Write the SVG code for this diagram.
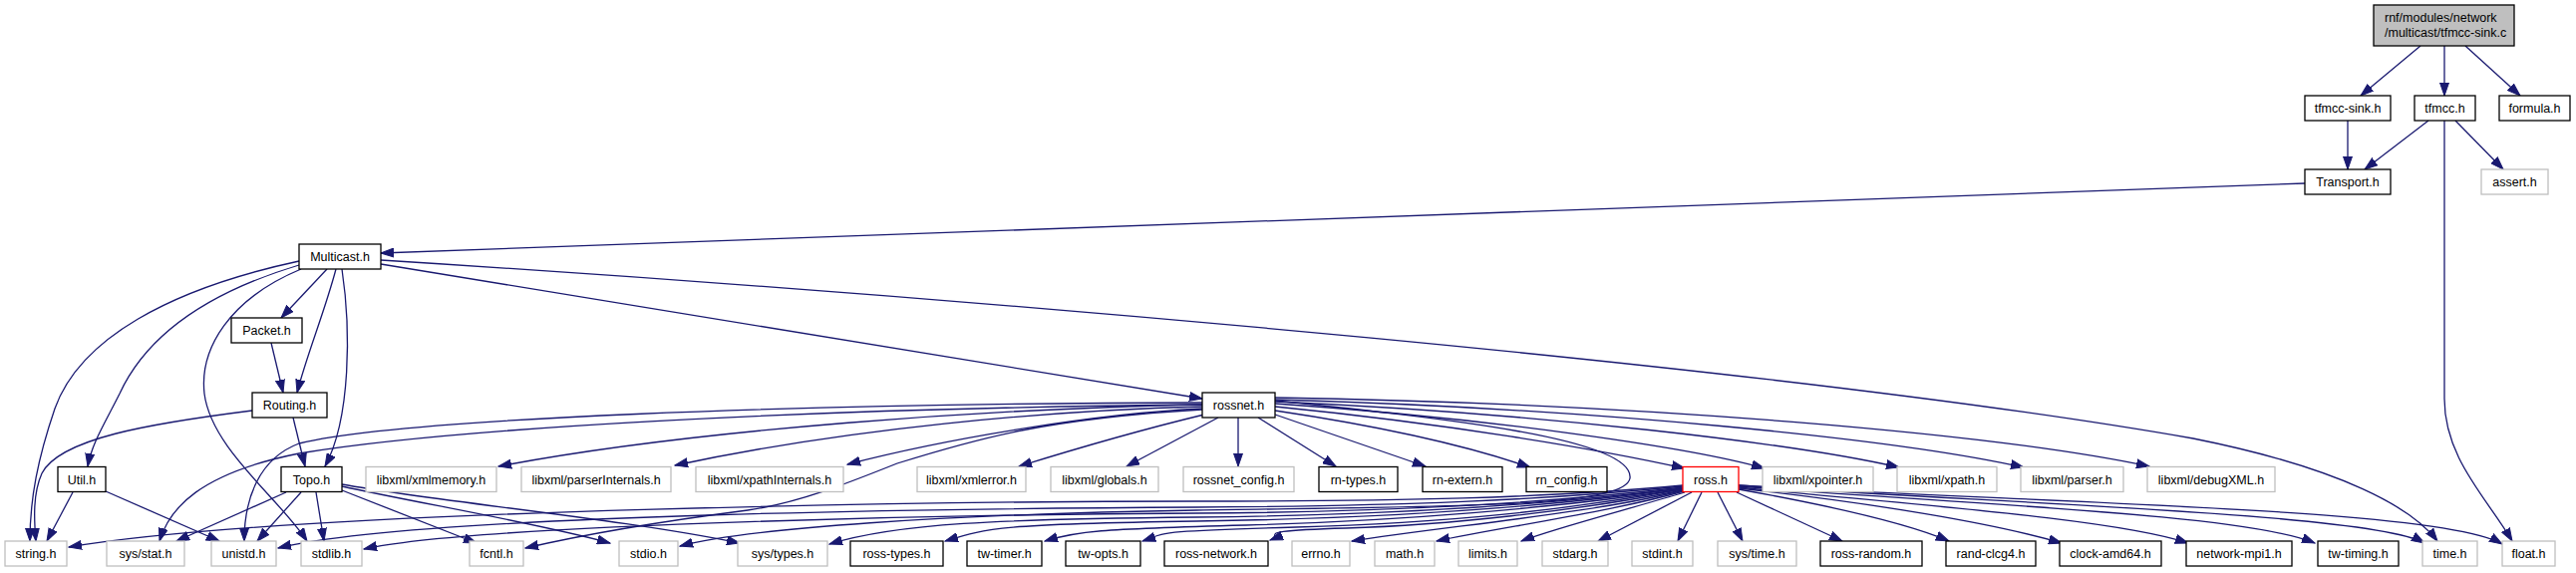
<svg xmlns="http://www.w3.org/2000/svg" width="2584" height="575" viewBox="0 0 2584 575">
<style>
.node rect{fill:#fff;stroke:#000;stroke-width:1.3}
.node.ext rect{stroke:#bfbfbf}
.node.red rect{stroke:#ff0000}
.node.root rect{fill:#bfbfbf;stroke:#000}
.node text{font-family:"Liberation Sans",Arial,sans-serif;font-size:12.5px;fill:#000;text-anchor:middle}
.node.root text{text-anchor:start}
#edges path{fill:none;stroke:#191970;stroke-width:1.3;marker-end:url(#arr)}
</style>
<defs>
<marker id="arr" markerUnits="userSpaceOnUse" markerWidth="14" markerHeight="10" refX="13" refY="5" orient="auto">
<path d="M0,0.5 L13,5 L0,9.5 z" fill="#191970" stroke="#191970" stroke-width="1"/>
</marker>
</defs>
<rect width="2584" height="575" fill="#fff"/>
<g id="edges">
<path d="M2428,46 L2368,96"/>
<path d="M2452,46 L2452,96"/>
<path d="M2473,46 L2528,96"/>
<path d="M2355,121 L2355,170"/>
<path d="M2436,121 L2372,170"/>
<path d="M2463,121 L2511,170"/>
<path d="M2452,121 L2452,400 C2452,460 2495,500 2520,543"/>
<path d="M2312,184 L382,254"/>
<path d="M328,270 L282,319"/>
<path d="M337,270 C325,315 308,355 298,394"/>
<path d="M343,270 C352,330 352,420 326,468"/>
<path d="M300,262 C170,290 80,340 55,410 C38,460 30,500 30,543"/>
<path d="M300,266 C220,290 150,330 120,395 C105,425 92,445 88,468"/>
<path d="M302,270 C230,300 200,350 205,395 C212,450 280,500 308,543"/>
<path d="M382,265 L1206,400"/>
<path d="M382,261 C1000,300 1800,370 2200,440 C2350,470 2420,510 2445,543"/>
<path d="M272,344 L284,394"/>
<path d="M294,419 L306,468"/>
<path d="M253,412 C150,425 60,440 42,475 C33,495 34,520 36,543"/>
<path d="M73,494 L47,543"/>
<path d="M106,493 L220,543"/>
<path d="M287,494 L177,543"/>
<path d="M302,494 L258,543"/>
<path d="M317,494 L325,543"/>
<path d="M343,492 L478,545"/>
<path d="M343,488 C420,505 540,525 612,545"/>
<path d="M343,486 C450,505 620,520 742,545"/>
<path d="M1206,406 C1000,410 700,430 500,468"/>
<path d="M1206,408 C1050,412 850,430 677,467"/>
<path d="M1206,410 C1100,415 950,440 850,466"/>
<path d="M1208,416 C1150,430 1080,450 1022,468"/>
<path d="M1222,419 L1130,468"/>
<path d="M1242,419 L1242,468"/>
<path d="M1262,419 L1340,468"/>
<path d="M1279,416 L1430,468"/>
<path d="M1279,412 C1400,430 1480,450 1535,469"/>
<path d="M1279,408 C1450,425 1600,450 1690,470"/>
<path d="M1279,405 C1500,420 1700,450 1770,470"/>
<path d="M1279,403 C1550,415 1800,445 1905,469"/>
<path d="M1279,401 C1600,410 1900,440 2030,469"/>
<path d="M1279,399 C1650,405 2000,435 2156,468"/>
<path d="M1206,404 C800,405 400,420 300,445 C260,460 245,500 245,543"/>
<path d="M1206,406 C800,410 450,430 300,455 C200,475 170,510 160,543"/>
<path d="M1206,411 C1050,420 980,440 900,465 C850,485 800,505 750,512 C650,525 570,540 527,550"/>
<path d="M1279,402 C1450,420 1640,440 1635,480 C1630,510 1450,508 1200,512 C950,516 750,530 682,548"/>
<path d="M1688,487 C1550,500 1400,503 1200,503 S300,510 69,549"/>
<path d="M1688,488 C1550,502 1400,508 1200,509 S420,515 279,550"/>
<path d="M1688,489 C1550,505 1400,514 1200,515 S480,525 365,551"/>
<path d="M1688,490 C1550,507 1400,517 1200,519 S900,525 832,546"/>
<path d="M1688,490 C1560,508 1400,520 1200,523 S990,530 948,543"/>
<path d="M1688,491 C1560,510 1400,523 1250,527 S1080,533 1048,543"/>
<path d="M1688,491 C1570,512 1450,525 1300,529 S1170,535 1146,543"/>
<path d="M1688,492 C1580,513 1450,527 1350,530 S1290,536 1274,542"/>
<path d="M1689,492 C1600,515 1450,528 1356,543"/>
<path d="M1689,493 C1610,515 1500,530 1441,543"/>
<path d="M1690,494 C1630,512 1560,530 1526,543"/>
<path d="M1697,494 L1603,543"/>
<path d="M1707,494 L1683,543"/>
<path d="M1723,494 L1748,543"/>
<path d="M1742,494 L1848,543"/>
<path d="M1744,491 C1850,510 1920,528 1955,543"/>
<path d="M1744,490 C1880,505 2000,525 2068,545"/>
<path d="M1744,489 C1900,505 2120,520 2195,545"/>
<path d="M1744,488 C1950,505 2250,515 2322,545"/>
<path d="M1744,487 C2000,505 2380,515 2432,545"/>
<path d="M1744,487 C2050,505 2450,510 2510,546"/>
</g>
<g id="n_root" class="node root"><rect x="2381" y="5" width="141" height="41"/><text x="2392" y="22">rnf/modules/network</text><text x="2392" y="37">/multicast/tfmcc-sink.c</text></g>
<g id="n_tfmcc_sink_h" class="node"><rect x="2312" y="96" width="86" height="25"/><text x="2355" y="113">tfmcc-sink.h</text></g>
<g id="n_tfmcc_h" class="node"><rect x="2422" y="96" width="61" height="25"/><text x="2452.5" y="113">tfmcc.h</text></g>
<g id="n_formula_h" class="node"><rect x="2507" y="96" width="71" height="25"/><text x="2542.5" y="113">formula.h</text></g>
<g id="n_transport_h" class="node"><rect x="2312" y="170" width="86" height="25"/><text x="2355" y="187">Transport.h</text></g>
<g id="n_assert_h" class="node ext"><rect x="2489" y="170" width="67" height="25"/><text x="2522.5" y="187">assert.h</text></g>
<g id="n_multicast_h" class="node"><rect x="300" y="245" width="82" height="25"/><text x="341" y="262">Multicast.h</text></g>
<g id="n_packet_h" class="node"><rect x="232" y="319" width="71" height="25"/><text x="267.5" y="336">Packet.h</text></g>
<g id="n_routing_h" class="node"><rect x="253" y="394" width="75" height="25"/><text x="290.5" y="411">Routing.h</text></g>
<g id="n_rossnet_h" class="node"><rect x="1206" y="394" width="73" height="25"/><text x="1242.5" y="411">rossnet.h</text></g>
<g id="n_util_h" class="node"><rect x="58" y="468.5" width="48" height="25"/><text x="82" y="485.5">Util.h</text></g>
<g id="n_topo_h" class="node"><rect x="282" y="468.5" width="61" height="25"/><text x="312.5" y="485.5">Topo.h</text></g>
<g id="n_xmlmemory_h" class="node ext"><rect x="367" y="468.5" width="131" height="25"/><text x="432.5" y="485.5">libxml/xmlmemory.h</text></g>
<g id="n_parserinternals_h" class="node ext"><rect x="523" y="468.5" width="150" height="25"/><text x="598" y="485.5">libxml/parserInternals.h</text></g>
<g id="n_xpathinternals_h" class="node ext"><rect x="698" y="468.5" width="148" height="25"/><text x="772" y="485.5">libxml/xpathInternals.h</text></g>
<g id="n_xmlerror_h" class="node ext"><rect x="920" y="468.5" width="109" height="25"/><text x="974.5" y="485.5">libxml/xmlerror.h</text></g>
<g id="n_globals_h" class="node ext"><rect x="1054" y="468.5" width="108" height="25"/><text x="1108" y="485.5">libxml/globals.h</text></g>
<g id="n_rossnet_config_h" class="node ext"><rect x="1187" y="468.5" width="111" height="25"/><text x="1242.5" y="485.5">rossnet_config.h</text></g>
<g id="n_rn_types_h" class="node"><rect x="1323" y="468.5" width="79" height="25"/><text x="1362.5" y="485.5">rn-types.h</text></g>
<g id="n_rn_extern_h" class="node"><rect x="1427" y="468.5" width="80" height="25"/><text x="1467" y="485.5">rn-extern.h</text></g>
<g id="n_rn_config_h" class="node"><rect x="1531" y="468.5" width="81" height="25"/><text x="1571.5" y="485.5">rn_config.h</text></g>
<g id="n_ross_h" class="node red"><rect x="1688" y="468.5" width="56" height="25"/><text x="1716" y="485.5">ross.h</text></g>
<g id="n_xpointer_h" class="node ext"><rect x="1768" y="468.5" width="111" height="25"/><text x="1823.5" y="485.5">libxml/xpointer.h</text></g>
<g id="n_xpath_h" class="node ext"><rect x="1903" y="468.5" width="100" height="25"/><text x="1953" y="485.5">libxml/xpath.h</text></g>
<g id="n_parser_h" class="node ext"><rect x="2027" y="468.5" width="103" height="25"/><text x="2078.5" y="485.5">libxml/parser.h</text></g>
<g id="n_debugxml_h" class="node ext"><rect x="2154" y="468.5" width="128" height="25"/><text x="2218" y="485.5">libxml/debugXML.h</text></g>
<g id="n_string_h" class="node ext"><rect x="5" y="543" width="62" height="25"/><text x="36" y="560">string.h</text></g>
<g id="n_sys_stat_h" class="node ext"><rect x="107" y="543" width="78" height="25"/><text x="146" y="560">sys/stat.h</text></g>
<g id="n_unistd_h" class="node ext"><rect x="212" y="543" width="65" height="25"/><text x="244.5" y="560">unistd.h</text></g>
<g id="n_stdlib_h" class="node ext"><rect x="302" y="543" width="61" height="25"/><text x="332.5" y="560">stdlib.h</text></g>
<g id="n_fcntl_h" class="node ext"><rect x="471" y="543" width="54" height="25"/><text x="498" y="560">fcntl.h</text></g>
<g id="n_stdio_h" class="node ext"><rect x="621" y="543" width="59" height="25"/><text x="650.5" y="560">stdio.h</text></g>
<g id="n_sys_types_h" class="node ext"><rect x="740" y="543" width="90" height="25"/><text x="785" y="560">sys/types.h</text></g>
<g id="n_ross_types_h" class="node"><rect x="853" y="543" width="93" height="25"/><text x="899.5" y="560">ross-types.h</text></g>
<g id="n_tw_timer_h" class="node"><rect x="970" y="543" width="75" height="25"/><text x="1007.5" y="560">tw-timer.h</text></g>
<g id="n_tw_opts_h" class="node"><rect x="1069" y="543" width="75" height="25"/><text x="1106.5" y="560">tw-opts.h</text></g>
<g id="n_ross_network_h" class="node"><rect x="1168" y="543" width="104" height="25"/><text x="1220" y="560">ross-network.h</text></g>
<g id="n_errno_h" class="node ext"><rect x="1296" y="543" width="58" height="25"/><text x="1325" y="560">errno.h</text></g>
<g id="n_math_h" class="node ext"><rect x="1379" y="543" width="60" height="25"/><text x="1409" y="560">math.h</text></g>
<g id="n_limits_h" class="node ext"><rect x="1463" y="543" width="59" height="25"/><text x="1492.5" y="560">limits.h</text></g>
<g id="n_stdarg_h" class="node ext"><rect x="1547" y="543" width="66" height="25"/><text x="1580" y="560">stdarg.h</text></g>
<g id="n_stdint_h" class="node ext"><rect x="1637" y="543" width="61" height="25"/><text x="1667.5" y="560">stdint.h</text></g>
<g id="n_sys_time_h" class="node ext"><rect x="1723" y="543" width="79" height="25"/><text x="1762.5" y="560">sys/time.h</text></g>
<g id="n_ross_random_h" class="node"><rect x="1826" y="543" width="102" height="25"/><text x="1877" y="560">ross-random.h</text></g>
<g id="n_rand_clcg4_h" class="node"><rect x="1952" y="543" width="90" height="25"/><text x="1997" y="560">rand-clcg4.h</text></g>
<g id="n_clock_amd64_h" class="node"><rect x="2066" y="543" width="102" height="25"/><text x="2117" y="560">clock-amd64.h</text></g>
<g id="n_network_mpi1_h" class="node"><rect x="2193" y="543" width="106" height="25"/><text x="2246" y="560">network-mpi1.h</text></g>
<g id="n_tw_timing_h" class="node"><rect x="2325" y="543" width="81" height="25"/><text x="2365.5" y="560">tw-timing.h</text></g>
<g id="n_time_h" class="node ext"><rect x="2430" y="543" width="55" height="25"/><text x="2457.5" y="560">time.h</text></g>
<g id="n_float_h" class="node ext"><rect x="2510" y="543" width="53" height="25"/><text x="2536.5" y="560">float.h</text></g>
</svg>
